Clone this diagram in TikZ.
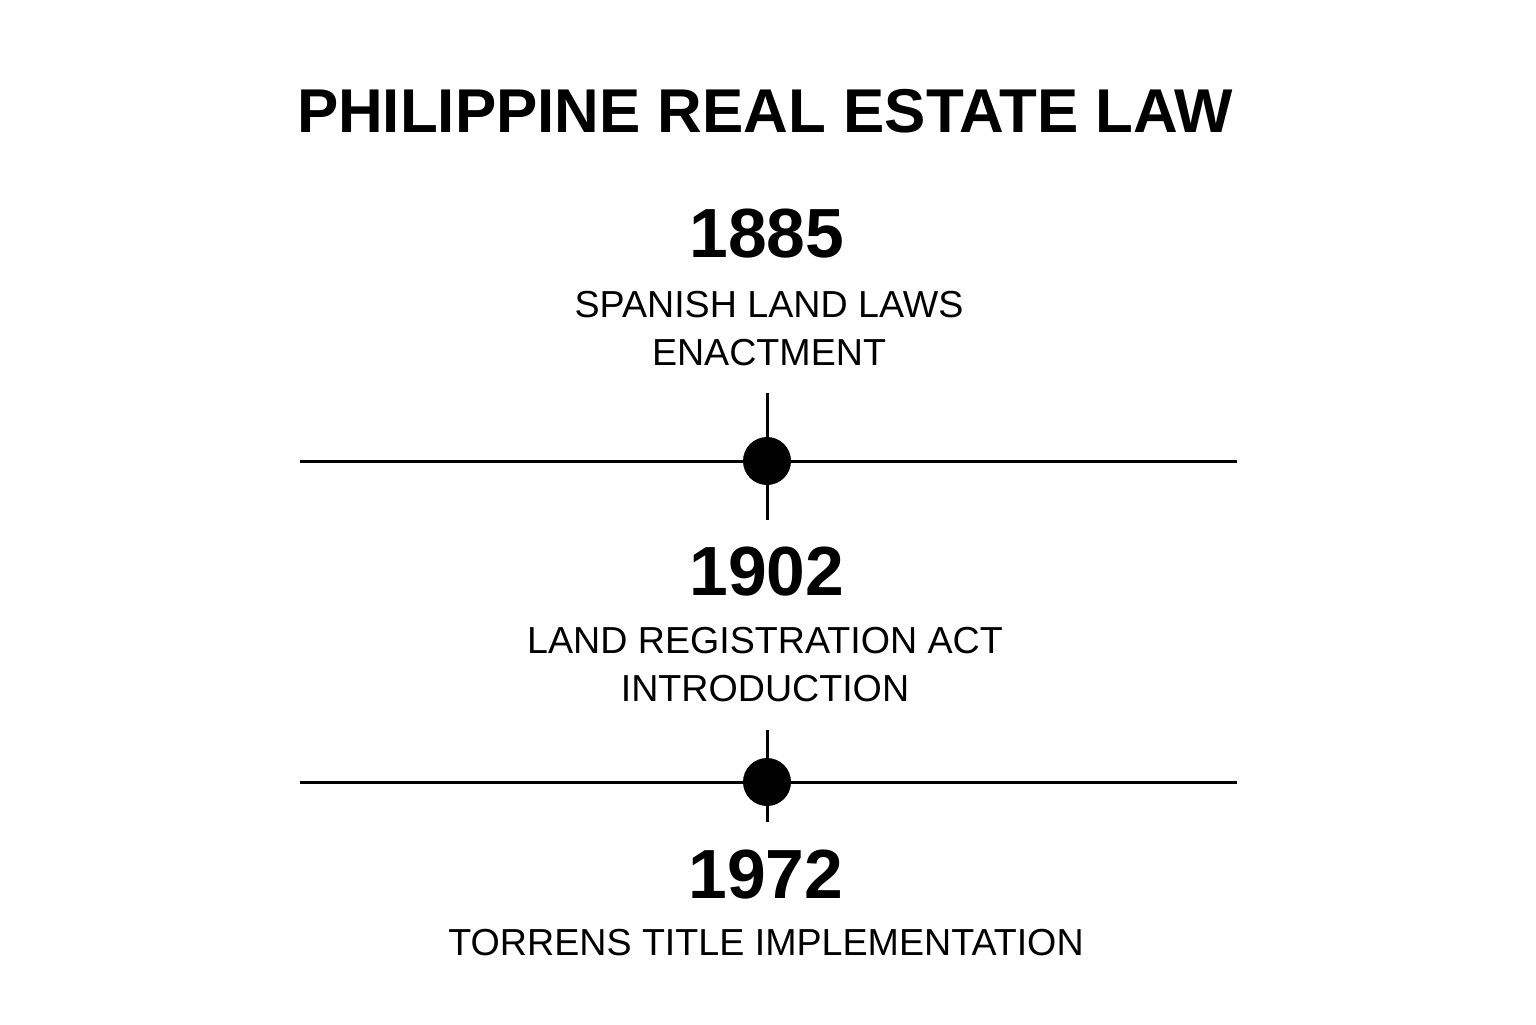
\documentclass[tikz,border=0pt]{standalone}
\usepackage{fontspec}
\setmainfont{Liberation Sans}
\usepackage{tikz}

\begin{document}
\begin{tikzpicture}[
    txt/.style={anchor=base, inner sep=0pt, align=center},
    heading/.style={txt, font=\fontsize{17.6pt}{20pt}\selectfont\bfseries},
    year/.style={txt, font=\fontsize{19.8pt}{22pt}\selectfont\bfseries},
    event/.style={txt, font=\fontsize{10.7pt}{13.4pt}\selectfont},
    axis/.style={line width=0.85pt},
    dot/.style={circle, fill=black, minimum size=0.48cm, inner sep=0pt}
  ]
  \useasboundingbox (0,0) rectangle (15.36,-10.24);

  \node[heading] (title) at (7.65,-1.32) {PHILIPPINE REAL ESTATE LAW};

  % first event
  \node[year] (y1885) at (7.67,-2.57) {1885};
  \node[event] (e1885) at (7.69,-3.65) {SPANISH LAND LAWS\\ENACTMENT};

  % first marker
  \coordinate (l1) at (3.00,-4.61);
  \coordinate (r1) at (12.37,-4.61);
  \coordinate (t1) at (7.67,-3.93);
  \coordinate (b1) at (7.67,-5.20);
  \draw[axis] (l1) -- (r1);
  \draw[axis] (t1) -- (b1);
  \node[dot] (d1) at (7.67,-4.61) {};

  % second event
  \node[year] (y1902) at (7.67,-5.95) {1902};
  \node[event] (e1902) at (7.65,-7.01) {LAND REGISTRATION ACT\\INTRODUCTION};

  % second marker
  \coordinate (l2) at (3.00,-7.82);
  \coordinate (r2) at (12.37,-7.82);
  \coordinate (t2) at (7.67,-7.30);
  \coordinate (b2) at (7.67,-8.22);
  \draw[axis] (l2) -- (r2);
  \draw[axis] (t2) -- (b2);
  \node[dot] (d2) at (7.67,-7.82) {};

  % third event
  \node[year] (y1972) at (7.66,-8.98) {1972};
  \node[event] (e1972) at (7.66,-9.55) {TORRENS TITLE IMPLEMENTATION};
\end{tikzpicture}
\end{document}
